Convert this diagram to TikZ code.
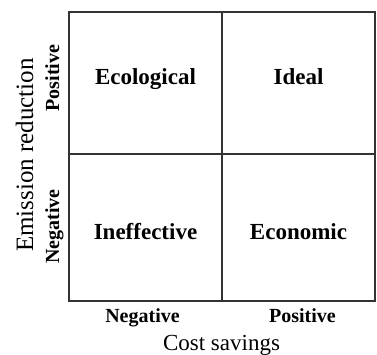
\documentclass[tikz,border=0pt]{standalone}
\usepackage{fontspec}
\setmainfont{Liberation Serif}
\usepackage{tikz}
\usetikzlibrary{positioning}
\begin{document}
\begin{tikzpicture}[x=1pt,y=1pt,
  gitter/.style={line width=2pt,draw=black!80},
  feld/.style={inner sep=0pt,anchor=base,font=\fontsize{23}{23}\selectfont\bfseries},
  stufe/.style={inner sep=0pt,anchor=base,font=\fontsize{20}{20}\selectfont\bfseries},
  titel/.style={inner sep=0pt,anchor=base,font=\fontsize{24}{24}\selectfont}]
%Rand wie im Bild: 377 x 354
  \useasboundingbox (0,0) rectangle (377,354);
%Raster mit zwei mal zwei Feldern
  \pgfmathsetmacro{\links}{69}
  \pgfmathsetmacro{\rechts}{375}
  \pgfmathsetmacro{\unten}{53}
  \pgfmathsetmacro{\oben}{342}
  \pgfmathsetmacro{\mitteX}{222}
  \pgfmathsetmacro{\mitteY}{200}
\draw[gitter] (\links,\unten) rectangle (\rechts,\oben);
\draw[gitter] (\mitteX,\unten) -- (\mitteX,\oben);
\draw[gitter] (\links,\mitteY) -- (\rechts,\mitteY);
%Felder
\node[feld] (oekologisch) at (145.5,269) {Ecological};
\node[feld] (ideal) at (298.5,269) {Ideal};
\node[feld] (ineffektiv) at (145.5,115) {Ineffective};
\node[feld] (oekonomisch) at (298.5,115) {Economic};
%Achsen
\node[stufe] (xneg) at (142.5,32) {Negative};
\node[stufe] (xpos) at (302.5,32) {Positive};
\node[stufe,rotate=90] (ypos) at (59,276) {Positive};
\node[stufe,rotate=90] (yneg) at (59,127.5) {Negative};
\node[titel,font=\fontsize{23}{23}\selectfont] (kosten) at (221.5,4) {Cost savings};
\node[titel,font=\fontsize{25}{25}\selectfont,rotate=90] (emission) at (33,199) {Emission reduction};
\end{tikzpicture}
\end{document}
